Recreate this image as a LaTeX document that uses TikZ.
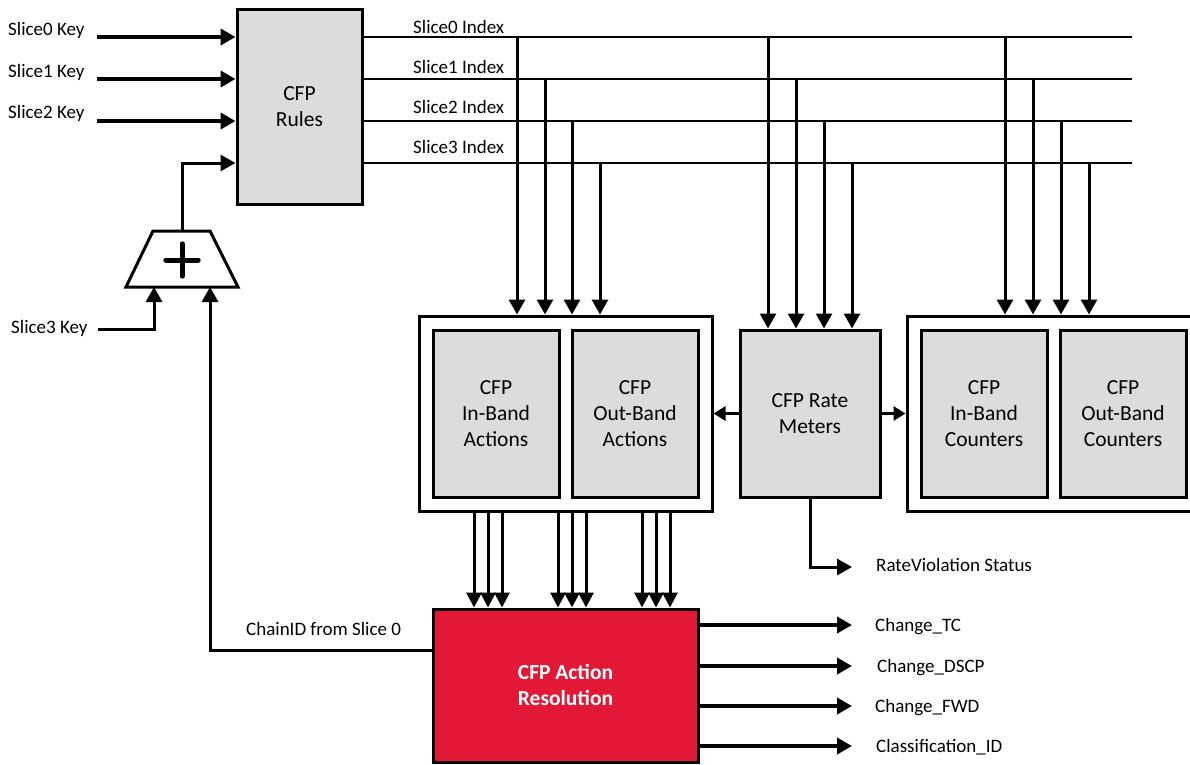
\documentclass[tikz,border=0pt]{standalone}
\usepackage{fontspec}
\setmainfont{Carlito}
\usetikzlibrary{arrows.meta,calc}
\definecolor{boxgray}{RGB}{220,220,220}
\definecolor{resred}{RGB}{227,24,55}
\begin{document}
\begin{tikzpicture}[x=1pt,y=-1pt,
  box/.style={draw=black,line width=3pt,fill=boxgray,inner sep=0pt,align=center,
    font=\fontsize{21.5}{26}\selectfont},
  outerbox/.style={draw=black,line width=3pt,fill=white,inner sep=0pt},
  lbl/.style={font=\fontsize{19}{23}\selectfont,inner sep=0pt},
  bigarr/.style={line width=4pt,-{Triangle[length=15pt,width=16pt]}},
  arr/.style={line width=3pt,-{Triangle[length=15pt,width=16pt]}},
  barr/.style={line width=3pt,-{Triangle[length=15pt,width=15pt]}},
  sarr/.style={line width=3.5pt,-{Triangle[length=12pt,width=14pt]}},
  bus/.style={line width=2.5pt},
]
\useasboundingbox (0,0) rectangle (1190,764);

% boxes
\node[box,minimum width=125pt,minimum height=195pt] (rules) at (299.5,106.5) {CFP\\Rules};
\node[outerbox,minimum width=293pt,minimum height=195pt] (actout) at (565.5,413.5) {};
\node[box,minimum width=126pt,minimum height=167pt] (inact) at (496,413.5) {CFP\\In-Band\\Actions};
\node[box,minimum width=126pt,minimum height=167pt] (outact) at (635,413.5) {CFP\\Out-Band\\Actions};
\node[box,minimum width=140pt,minimum height=167pt] (rate) at (810,413.5) {CFP Rate\\Meters};
\node[outerbox,minimum width=293pt,minimum height=195pt] (cntout) at (1053.5,413.5) {};
\node[box,minimum width=126pt,minimum height=167pt] (incnt) at (984,413.5) {CFP\\In-Band\\Counters};
\node[box,minimum width=126pt,minimum height=167pt] (outcnt) at (1123,413.5) {CFP\\Out-Band\\Counters};
\node[box,fill=resred,text=white,font=\fontsize{21.5}{26}\selectfont\bfseries,
  minimum width=265pt,minimum height=153pt] (res) at (565.5,685.5) {CFP Action\\Resolution};

% adder
\draw[line width=3pt,fill=white] (153,231) -- (210,231) -- (238,287) -- (126,287) -- cycle;
\coordinate (addtop) at (182,231);
\coordinate (addin1) at (154,287);
\coordinate (addin2) at (210,287);
\node[inner sep=0pt,minimum size=32pt] (add) at (182,260) {};
\draw[line width=5pt,line cap=round] (add.west) -- (add.east);
\draw[line width=5pt,line cap=round] (add.north) -- (add.south);

% key inputs
\coordinate (k0) at (97,37);
\coordinate (k1) at (97,79);
\coordinate (k2) at (97,121);
\coordinate (k3) at (97,163);
\draw[bigarr] (k0) -- (k0 -| rules.west);
\draw[bigarr] (k1) -- (k1 -| rules.west);
\draw[bigarr] (k2) -- (k2 -| rules.west);
\draw[arr] (addtop) |- (k3 -| rules.west);
\node[lbl,anchor=base west] (l0) at (8,35) {Slice0 Key};
\node[lbl,anchor=base west] (l1) at (8,77) {Slice1 Key};
\node[lbl,anchor=base west] (l2) at (8,118) {Slice2 Key};

\coordinate (s3) at (98,329);
\draw[arr] (s3) -| (addin1);
\node[lbl,anchor=base west] (l3) at (11,333) {Slice3 Key};

\coordinate (cid) at (210,650);
\draw[arr] (res.west |- cid) -- (cid) -- (addin2);
\node[lbl,anchor=base west] (lcid) at (246,635) {ChainID from Slice 0};

% index buses
\coordinate (i0) at (1132,37);
\coordinate (i1) at (1132,79);
\coordinate (i2) at (1132,121);
\coordinate (i3) at (1132,163);
\draw[bus] (i0 -| rules.east) -- (i0);
\draw[bus] (i1 -| rules.east) -- (i1);
\draw[bus] (i2 -| rules.east) -- (i2);
\draw[bus] (i3 -| rules.east) -- (i3);
\node[lbl,anchor=base west] (il0) at (413,33) {Slice0 Index};
\node[lbl,anchor=base west] (il1) at (413,73) {Slice1 Index};
\node[lbl,anchor=base west] (il2) at (413,113) {Slice2 Index};
\node[lbl,anchor=base west] (il3) at (413,153) {Slice3 Index};

% drops
\foreach \x/\y in {517/37,545/79,572/121,600/163} {
  \path (\x,\y) coordinate (d);
  \draw[arr] (d) -- (d |- actout.north);
}
\foreach \x/\y in {768/37,796/79,824/121,852/163} {
  \path (\x,\y) coordinate (d);
  \draw[arr] (d) -- (d |- rate.north);
}
\foreach \x/\y in {1005/37,1033/79,1061/121,1089/163} {
  \path (\x,\y) coordinate (d);
  \draw[arr] (d) -- (d |- cntout.north);
}

% rate meter side arrows
\draw[sarr] (rate.west) -- (actout.east);
\draw[sarr] (rate.east) -- (cntout.west);

% rate violation
\coordinate (rv) at (852,567);
\draw[arr] (rate.south) |- (rv);
\node[lbl,anchor=base west] (lrv) at (876,571) {RateViolation Status};

% action buses into resolution
\foreach \x in {474,488,502,558,572,586,642,656,670} {
  \path (\x,0) coordinate (b);
  \draw[barr] (b |- actout.south) -- (b |- res.north);
}

% outputs
\coordinate (o1) at (852,625);
\coordinate (o2) at (852,666);
\coordinate (o3) at (852,706);
\coordinate (o4) at (852,746);
\draw[bigarr] (o1 -| res.east) -- (o1);
\draw[bigarr] (o2 -| res.east) -- (o2);
\draw[bigarr] (o3 -| res.east) -- (o3);
\draw[bigarr] (o4 -| res.east) -- (o4);
\node[lbl,anchor=base west] (lo1) at (875,631) {Change\_TC};
\node[lbl,anchor=base west] (lo2) at (877,672) {Change\_DSCP};
\node[lbl,anchor=base west] (lo3) at (875,712) {Change\_FWD};
\node[lbl,anchor=base west] (lo4) at (876,752) {Classification\_ID};
\end{tikzpicture}
\end{document}
